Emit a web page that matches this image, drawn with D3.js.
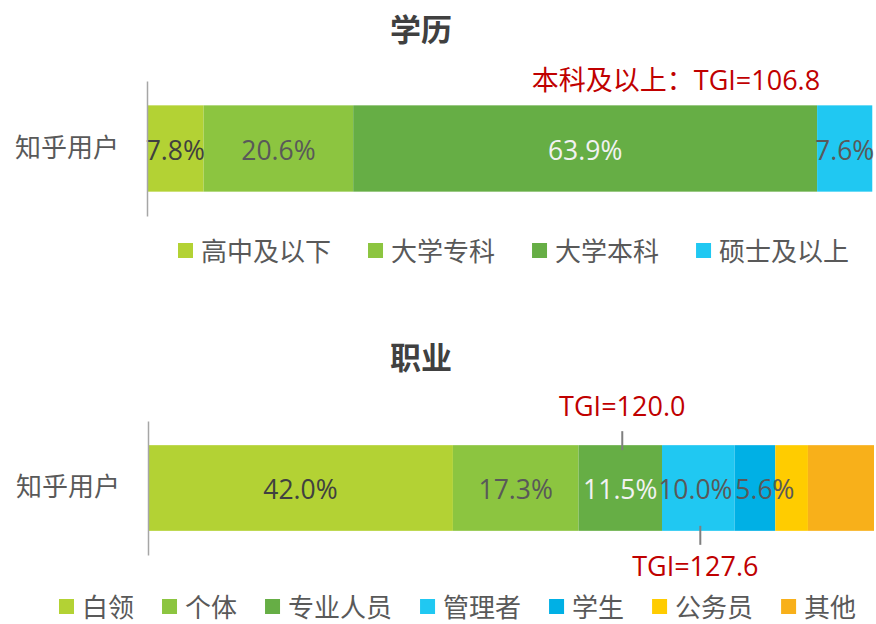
<!DOCTYPE html>
<html><head><meta charset="utf-8">
<script src="https://cdn.jsdelivr.net/npm/d3@7"></script>
<style>
html,body{margin:0;padding:0;background:#fff;}
text{font-family:"Open Sans","Noto Sans CJK SC",sans-serif;}
</style></head>
<body>
<svg id="chart" width="876" height="624"></svg>
<script>
// ---- data ----
const rowLabels = ["知乎用户"];
const eduTitle = "学历";
const eduCategories = ["高中及以下", "大学专科", "大学本科", "硕士及以上"];
const eduValues = [7.8, 20.6, 63.9, 7.6];
const eduNote = "本科及以上：TGI=106.8";

const jobTitle = "职业";
const jobCategories = ["白领", "个体", "专业人员", "管理者", "学生", "公务员", "其他"];
const jobValues = [42.0, 17.3, 11.5, 10.0, 5.6, 4.5, 9.1];
const jobLabelShown = [true, true, true, true, true, false, false];
const jobNotes = [
  {category: "专业人员", text: "TGI=120.0", side: "top"},
  {category: "管理者", text: "TGI=127.6", side: "bottom"}
];

const colors = ["#b3d234", "#8cc540", "#66ae45", "#20c8f2", "#00b0e5", "#ffcc00", "#f8b01a"];
const labelColors = ["#404040", "#595959", "#f2f2f2", "#595959", "#595959", "#595959", "#595959"];

const svg = d3.select("#chart");

function drawPanel(cfg) {
  const g = svg.append("g");
  const x = d3.scaleLinear().domain([0, 100]).range([cfg.x0, cfg.x0 + 726]);
  const y = d3.scaleBand().domain(rowLabels).range([cfg.yTop, cfg.yBot]).paddingInner(0.22).paddingOuter(0.22);

  // title
  g.append("text").attr("x", 421).attr("y", cfg.titleY)
    .attr("text-anchor", "middle").attr("dominant-baseline", "central")
    .attr("font-size", 31).attr("font-weight", "bold").attr("fill", "#404040")
    .attr("font-family", "'Noto Sans CJK SC',sans-serif")
    .text(cfg.title);

  // stacked segments
  const stack = [];
  let acc = 0;
  cfg.values.forEach((v, i) => { stack.push({cat: cfg.cats[i], v, s: acc, e: acc + v, i}); acc += v; });

  const row = rowLabels[0];
  g.selectAll("rect.seg").data(stack).join("rect")
    .attr("class", "seg")
    .attr("x", d => x(d.s)).attr("width", d => x(d.e) - x(d.s))
    .attr("y", y(row)).attr("height", y.bandwidth())
    .attr("fill", d => colors[d.i]);

  const dx = cfg.labelDx || {};
  g.selectAll("text.val").data(stack.filter(d => cfg.showLabel[d.i])).join("text")
    .attr("class", "val")
    .attr("x", d => x((d.s + d.e) / 2) + (dx[d.cat] || 0)).attr("y", y(row) + y.bandwidth() / 2 + 1)
    .attr("text-anchor", "middle").attr("dominant-baseline", "central")
    .attr("font-size", 26.5).attr("fill", d => labelColors[d.i])
    .text(d => d.v.toFixed(1) + "%");

  // axis
  const ax = g.append("g").attr("transform", `translate(${cfg.x0},0)`)
    .call(d3.axisLeft(y).tickSize(0).tickPadding(28));
  ax.select(".domain").attr("stroke", "#a6a6a6").attr("stroke-width", 1.5);
  ax.selectAll(".tick text").attr("font-size", 26).attr("fill", "#595959")
    .attr("font-family", "'Noto Sans CJK SC',sans-serif");

  // notes
  if (cfg.note) {
    g.append("text").attr("x", cfg.note.x).attr("y", cfg.note.y)
      .attr("text-anchor", "middle").attr("dominant-baseline", "central")
      .attr("font-size", 27).attr("fill", "#c00000").text(cfg.note.text);
  }
  (cfg.segNotes || []).forEach(n => {
    const d = stack.find(s => s.cat === n.category);
    const cx = x((d.s + d.e) / 2);
    const top = n.side === "top";
    const yb = top ? y(row) : y(row) + y.bandwidth();
    g.append("line").attr("x1", cx + 2).attr("x2", cx + 2)
      .attr("y1", top ? yb - 14 : yb - 5).attr("y2", top ? yb + 5 : yb + 14)
      .attr("stroke", "#7f7f7f").attr("stroke-width", 2);
    g.append("text").attr("x", cx + (top ? 2 : -3)).attr("y", top ? yb - 40 : yb + 35)
      .attr("text-anchor", "middle").attr("dominant-baseline", "central")
      .attr("font-size", 27).attr("fill", "#c00000").text(n.text);
  });

  // legend
  const lg = g.append("g");
  let lx = cfg.legendX;
  cfg.cats.forEach((c, i) => {
    lg.append("rect").attr("x", lx).attr("y", cfg.legendY - 8).attr("width", 15).attr("height", 15)
      .attr("fill", colors[i]);
    const t = lg.append("text").attr("x", lx + 23).attr("y", cfg.legendY)
      .attr("dominant-baseline", "central").attr("font-size", 26).attr("fill", "#595959")
      .attr("font-family", "'Noto Sans CJK SC',sans-serif").text(c);
    lx += 23 + t.node().getComputedTextLength() + cfg.legendGap;
  });
}

drawPanel({
  title: eduTitle, titleY: 29, cats: eduCategories, values: eduValues,
  showLabel: eduValues.map(() => true),
  x0: 147, yTop: 81, yBot: 216,
  note: {text: eduNote, x: 676, y: 79},
  legendX: 178, legendY: 251, legendGap: 37
});

drawPanel({
  title: jobTitle, titleY: 357, cats: jobCategories, values: jobValues,
  showLabel: jobLabelShown,
  labelDx: {"管理者": -3, "学生": 10},
  x0: 148, yTop: 421, yBot: 555,
  segNotes: jobNotes,
  legendX: 59, legendY: 607, legendGap: 28
});
</script>
</body></html>
